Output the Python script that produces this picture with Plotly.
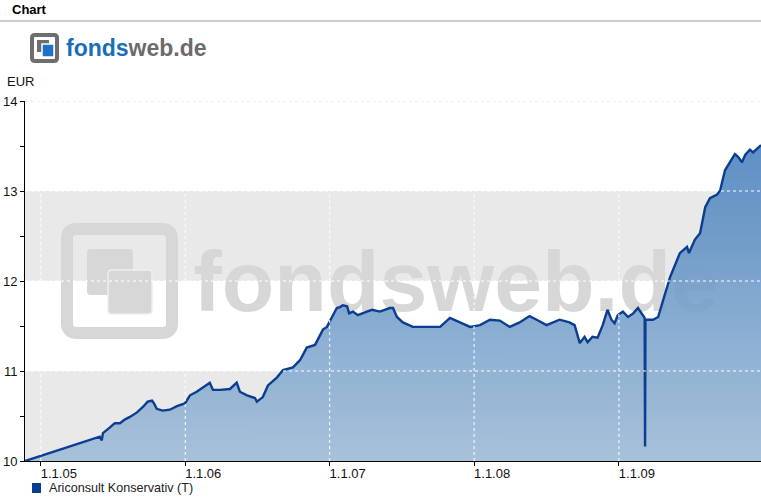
import plotly.graph_objects as go
import pandas as pd

# ---------------- data ----------------
dates = ["2004-11-22", "2005-05-30", "2005-06-04", "2005-06-07", "2005-06-24", "2005-07-07",
         "2005-07-20", "2005-08-01", "2005-08-14", "2005-09-01", "2005-09-16", "2005-09-28",
         "2005-10-09", "2005-10-14", "2005-10-21", "2005-11-05", "2005-11-23", "2005-12-11",
         "2005-12-31", "2006-01-13", "2006-01-30", "2006-02-15", "2006-03-04", "2006-03-12",
         "2006-03-30", "2006-04-24", "2006-05-11", "2006-05-19", "2006-06-06", "2006-06-26",
         "2006-07-01", "2006-07-16", "2006-07-29", "2006-08-21", "2006-09-05", "2006-09-30",
         "2006-10-18", "2006-11-04", "2006-11-25", "2006-12-15", "2006-12-25", "2007-01-07",
         "2007-01-19", "2007-01-27", "2007-02-03", "2007-02-14", "2007-02-19", "2007-03-01",
         "2007-03-13", "2007-04-05", "2007-04-18", "2007-05-08", "2007-06-02", "2007-06-10",
         "2007-06-20", "2007-07-05", "2007-07-30", "2007-10-07", "2007-11-01", "2007-11-26",
         "2007-12-22", "2008-01-16", "2008-02-10", "2008-03-06", "2008-03-31", "2008-04-25",
         "2008-05-20", "2008-06-07", "2008-07-02", "2008-08-04", "2008-08-29", "2008-09-11",
         "2008-09-24", "2008-10-06", "2008-10-14", "2008-10-26", "2008-11-08", "2008-11-21",
         "2008-12-03", "2008-12-13", "2008-12-21", "2008-12-29", "2009-01-11", "2009-01-24",
         "2009-02-06", "2009-02-18", "2009-03-03", "2009-03-07", "2009-03-08", "2009-03-09",
         "2009-03-28", "2009-04-10", "2009-05-10", "2009-05-18", "2009-06-04", "2009-06-22",
         "2009-06-27", "2009-07-12", "2009-07-25", "2009-08-07", "2009-08-19", "2009-09-06",
         "2009-09-14", "2009-09-26", "2009-10-09", "2009-10-21", "2009-10-29", "2009-11-08",
         "2009-11-16", "2009-11-28", "2009-12-06", "2009-12-26"]
values = [10.00, 10.27, 10.23, 10.31, 10.37, 10.42,
          10.42, 10.46, 10.49, 10.54, 10.60, 10.66,
          10.67, 10.64, 10.58, 10.56, 10.57, 10.61,
          10.64, 10.73, 10.77, 10.82, 10.87, 10.79,
          10.79, 10.80, 10.87, 10.77, 10.73, 10.70,
          10.66, 10.71, 10.84, 10.93, 11.01, 11.04,
          11.12, 11.26, 11.29, 11.46, 11.49, 11.60,
          11.70, 11.71, 11.73, 11.72, 11.64, 11.66,
          11.62, 11.66, 11.68, 11.66, 11.70, 11.70,
          11.60, 11.54, 11.49, 11.49, 11.59, 11.54,
          11.49, 11.51, 11.57, 11.56, 11.49, 11.54,
          11.61, 11.57, 11.51, 11.57, 11.54, 11.51,
          11.31, 11.38, 11.32, 11.38, 11.37, 11.51,
          11.68, 11.57, 11.53, 11.62, 11.66, 11.60,
          11.64, 11.70, 11.62, 11.59, 10.16, 11.57,
          11.57, 11.60, 12.04, 12.12, 12.31, 12.38,
          12.31, 12.46, 12.53, 12.82, 12.92, 12.96,
          13.01, 13.23, 13.32, 13.41, 13.38, 13.32,
          13.40, 13.46, 13.43, 13.51]

series_name = "Ariconsult Konservativ (T)"
x_tickvals = ["2005-01-01", "2006-01-01", "2007-01-01", "2008-01-01", "2009-01-01"]
x_ticktext = ["1.1.05", "1.1.06", "1.1.07", "1.1.08", "1.1.09"]
y_tickvals = [10, 11, 12, 13, 14]
y_minor = [10.5, 11.5, 12.5, 13.5]
band_ranges = [(10, 11), (12, 13)]
x_range = ["2004-11-22", "2009-12-26"]
y_range = [10, 14]

# ---------------- layout helpers ----------------
W, H = 761, 501
L, R, T, B = 25, 0, 101, 40
PW, PH = W - L - R, H - T - B
FONT = "Liberation Sans, Arial, sans-serif"


def fx(px):
    return (px - L) / PW


def fy(py):
    return (H - B - py) / PH


X0, X1 = pd.Timestamp(x_range[0]), pd.Timestamp(x_range[1])


def date_at(px):
    return (X0 + (X1 - X0) * fx(px)).strftime("%Y-%m-%d %H:%M")


def val_at(py):
    return y_range[0] + (y_range[1] - y_range[0]) * fy(py)


def rrect(x0, y0, x1, y1, r):
    a, b, c, d = fx(x0), fx(x1), fy(y0), fy(y1)
    rx, ry = r / PW, r / PH
    return (f"M {a+rx},{c} L {b-rx},{c} Q {b},{c} {b},{c-ry} "
            f"L {b},{d+ry} Q {b},{d} {b-rx},{d} L {a+rx},{d} Q {a},{d} {a},{d+ry} "
            f"L {a},{c-ry} Q {a},{c} {a+rx},{c} Z")


fig = go.Figure()

# watermark text (below the area)
fig.add_trace(go.Scatter(
    x=[date_at(456)], y=[val_at(289)], mode="text", text=["fondsweb.de"],
    textfont=dict(family=FONT, size=86, color="#d7d7d7", weight="bold"),
    textposition="middle center", hoverinfo="skip", showlegend=False))

# data series
fig.add_trace(go.Scatter(
    x=dates, y=values, mode="lines", name=series_name,
    line=dict(color="#0b3d91", width=2.4),
    fill="tozeroy",
    fillgradient=dict(type="vertical", start=10, stop=13.5,
                      colorscale=[[0, "rgba(160,189,216,0.9)"], [1, "rgba(76,131,190,0.9)"]]),
    hoverinfo="x+y", showlegend=False))

shapes = []
# bands
for lo, hi in band_ranges:
    shapes.append(dict(type="rect", xref="paper", yref="y", x0=0, x1=1, y0=lo, y1=hi,
                       fillcolor="#e9e9e9", line=dict(width=0), layer="below"))
# watermark icon
shapes.append(dict(type="path", xref="paper", yref="paper", path=rrect(67, 229, 172, 333, 10),
                   line=dict(color="#d7d7d7", width=12), layer="below"))
shapes.append(dict(type="path", xref="paper", yref="paper", path=rrect(87, 249, 133, 295, 4),
                   fillcolor="#d7d7d7", line=dict(width=0), layer="below"))
shapes.append(dict(type="path", xref="paper", yref="paper", path=rrect(108, 270, 152, 314, 4),
                   fillcolor="#d7d7d7", line=dict(color="#eeeeee", width=1.5), layer="below"))
# grid lines (white dotted, above area)
for v in y_tickvals[1:-1]:
    shapes.append(dict(type="line", xref="paper", yref="y", x0=0, x1=1, y0=v, y1=v,
                       line=dict(color="white", width=1, dash="dot"), layer="above"))
shapes.append(dict(type="line", xref="paper", yref="y", x0=0, x1=1, y0=y_tickvals[-1], y1=y_tickvals[-1],
                   line=dict(color="#dddddd", width=1, dash="dot"), layer="above"))
for d in x_tickvals:
    shapes.append(dict(type="line", xref="x", yref="paper", x0=d, x1=d, y0=0, y1=1,
                       line=dict(color="white", width=1, dash="dot"), layer="above"))
# header rule
shapes.append(dict(type="line", xref="paper", yref="paper", x0=fx(0), x1=fx(W), y0=fy(21), y1=fy(21),
                   line=dict(color="#bdbdbd", width=1.5)))
# small logo
shapes.append(dict(type="path", xref="paper", yref="paper", path=rrect(32, 35, 57, 61, 3),
                   line=dict(color="#6e6e6e", width=4)))
shapes.append(dict(type="rect", xref="paper", yref="paper", x0=fx(37), x1=fx(49), y0=fy(40), y1=fy(52),
                   fillcolor="#6e6e6e", line=dict(width=0)))
shapes.append(dict(type="rect", xref="paper", yref="paper", x0=fx(42), x1=fx(54), y0=fy(44), y1=fy(57),
                   fillcolor="#1c73c6", line=dict(color="white", width=1.5)))
# legend marker
shapes.append(dict(type="rect", xref="paper", yref="paper", x0=fx(32), x1=fx(41), y0=fy(483), y1=fy(493),
                   fillcolor="#0b3d91", line=dict(width=0)))

annotations = [
    dict(text="<b>Chart</b>", xref="paper", yref="paper", x=fx(10), y=fy(9), xanchor="left",
         yanchor="middle", showarrow=False, font=dict(family=FONT, size=13, color="black")),
    dict(text="<b><span style='color:#1a6eb7'>fonds</span><span style='color:#6b6b6b'>web.de</span></b>",
         xref="paper", yref="paper", x=fx(64), y=fy(48), xanchor="left", yanchor="middle",
         showarrow=False, font=dict(family=FONT, size=23)),
    dict(text="EUR", xref="paper", yref="paper", x=fx(5), y=fy(82), xanchor="left", yanchor="middle",
         showarrow=False, font=dict(family=FONT, size=13, color="#111")),
    dict(text=series_name, xref="paper", yref="paper", x=fx(47), y=fy(488), xanchor="left",
         yanchor="middle", showarrow=False, font=dict(family=FONT, size=12.6, color="#222")),
]

fig.update_layout(
    width=W, height=H, margin=dict(l=L, r=R, t=T, b=B, pad=0),
    paper_bgcolor="white", plot_bgcolor="white",
    font=dict(family=FONT, size=13, color="#111"),
    shapes=shapes, annotations=annotations, showlegend=False,
    xaxis=dict(type="date", range=x_range, tickvals=x_tickvals, ticktext=x_ticktext,
               showgrid=False, zeroline=False, showline=True, linecolor="black", linewidth=1,
               ticks="outside", ticklen=4, tickcolor="black", ticklabelshift=18,
               ticklabelstandoff=-4,
               tickfont=dict(family=FONT, size=13, color="#111")),
    yaxis=dict(range=y_range, tickvals=y_tickvals, ticktext=[str(v) for v in y_tickvals],
               showgrid=False, zeroline=False, showline=True, linecolor="black", linewidth=1,
               ticks="outside", ticklen=4, tickcolor="black",
               minor=dict(tickvals=y_minor, ticks="outside", ticklen=4, tickcolor="black", showgrid=False),
               tickfont=dict(family=FONT, size=13, color="#111")),
)

fig.write_html("out.html", config={"displayModeBar": False},
               post_script="document.body.style.margin='0';document.body.style.overflow='hidden';")
